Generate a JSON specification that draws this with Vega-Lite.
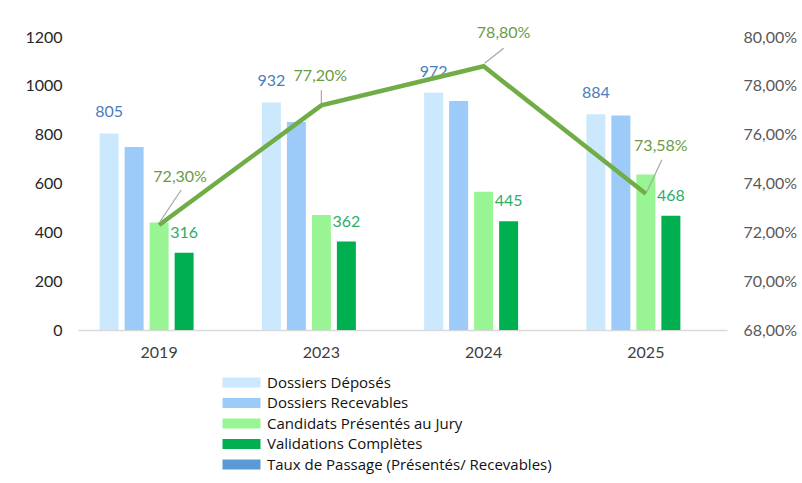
{
  "$schema": "https://vega.github.io/schema/vega-lite/v6.json",
  "width": 649,
  "height": 293,
  "autosize": {"type": "none"},
  "padding": {"left": 78, "top": 37, "right": 75, "bottom": 153},
  "background": "white",
  "config": {
    "view": {"stroke": null},
    "font": "Lato",
    "locale": {"number": {"decimal": ",", "thousands": "", "grouping": [3], "currency": ["", " €"]}}
  },
  "datasets": {
    "bars": [
      {"year": "2019", "series": "Dossiers Déposés", "value": 805},
      {"year": "2023", "series": "Dossiers Déposés", "value": 932},
      {"year": "2024", "series": "Dossiers Déposés", "value": 972},
      {"year": "2025", "series": "Dossiers Déposés", "value": 884},
      {"year": "2019", "series": "Dossiers Recevables", "value": 750},
      {"year": "2023", "series": "Dossiers Recevables", "value": 852},
      {"year": "2024", "series": "Dossiers Recevables", "value": 938},
      {"year": "2025", "series": "Dossiers Recevables", "value": 878},
      {"year": "2019", "series": "Candidats Présentés au Jury", "value": 440},
      {"year": "2023", "series": "Candidats Présentés au Jury", "value": 471},
      {"year": "2024", "series": "Candidats Présentés au Jury", "value": 566},
      {"year": "2025", "series": "Candidats Présentés au Jury", "value": 637},
      {"year": "2019", "series": "Validations Complètes", "value": 316},
      {"year": "2023", "series": "Validations Complètes", "value": 362},
      {"year": "2024", "series": "Validations Complètes", "value": 445},
      {"year": "2025", "series": "Validations Complètes", "value": 468}
    ],
    "taux": [
      {"year": "2019", "taux": 0.723},
      {"year": "2023", "taux": 0.772},
      {"year": "2024", "taux": 0.788},
      {"year": "2025", "taux": 0.7358}
    ]
  },
  "layer": [
    {
      "data": {"name": "bars"},
      "layer": [
        {
          "mark": {"type": "bar"},
          "encoding": {
            "x": {
              "field": "year", "type": "nominal",
              "scale": {"paddingInner": 0.2666, "paddingOuter": 0.1333},
              "axis": {"title": null, "labelAngle": 0, "ticks": false, "tickSize": 0, "domainColor": "#D9D9D9", "domainWidth": 1.5, "labelFontSize": 16, "labelColor": "#404040", "labelPadding": 14}
            },
            "xOffset": {
              "field": "series", "type": "nominal",
              "scale": {"domain": ["Dossiers Déposés", "Dossiers Recevables", "Candidats Présentés au Jury", "Validations Complètes", "Taux de Passage (Présentés/ Recevables)"], "paddingInner": 0.24, "paddingOuter": 0}
            },
            "y": {
              "field": "value", "type": "quantitative",
              "scale": {"domain": [0, 1200]},
              "axis": {"title": null, "values": [0, 200, 400, 600, 800, 1000, 1200], "grid": false, "domain": false, "ticks": false, "tickSize": 0, "labelFontSize": 16, "labelColor": "#262626", "labelPadding": 16}
            },
            "color": {
              "field": "series", "type": "nominal",
              "scale": {
                "domain": ["Dossiers Déposés", "Dossiers Recevables", "Candidats Présentés au Jury", "Validations Complètes", "Taux de Passage (Présentés/ Recevables)"],
                "range": ["#CCE8FC", "#9DCBF9", "#99F593", "#00B050", "#5B9BD5"]
              },
              "legend": {
                "orient": "none", "legendX": 156, "legendY": 338, "direction": "vertical", "title": null,
                "symbolType": "M-3.8,-1H3.8V1H-3.8Z", "symbolSize": 100, "symbolStrokeWidth": 0,
                "labelFont": "Open Sans", "labelFontSize": 15, "labelOffset": 18, "rowPadding": 4.5, "labelColor": "#111111", "labelLimit": 400
              }
            }
          }
        },
        {
          "transform": [{"filter": "datum.series == 'Dossiers Déposés'"}],
          "mark": {"type": "text", "fontSize": 16, "color": "#4A7EBB", "baseline": "middle", "dy": -21},
          "encoding": {
            "x": {"field": "year", "type": "nominal"},
            "xOffset": {"field": "series", "type": "nominal"},
            "y": {"field": "value", "type": "quantitative"},
            "text": {"field": "value", "type": "quantitative"}
          }
        },
        {
          "transform": [{"filter": "datum.series == 'Validations Complètes'"}],
          "mark": {"type": "text", "fontSize": 16, "color": "#2EAD6A", "baseline": "middle", "dy": -20},
          "encoding": {
            "x": {"field": "year", "type": "nominal"},
            "xOffset": {"field": "series", "type": "nominal"},
            "y": {"field": "value", "type": "quantitative"},
            "text": {"field": "value", "type": "quantitative"}
          }
        }
      ]
    },
    {
      "data": {"name": "taux"},
      "layer": [
        {
          "mark": {"type": "line", "color": "#70AD47", "strokeWidth": 4.5},
          "encoding": {
            "x": {"field": "year", "type": "nominal"},
            "y": {
              "field": "taux", "type": "quantitative",
              "scale": {"domain": [0.68, 0.80]},
              "axis": {"orient": "right", "title": null, "values": [0.68, 0.70, 0.72, 0.74, 0.76, 0.78, 0.80], "format": ".2%", "grid": false, "domain": false, "ticks": false, "tickSize": 0, "labelFontSize": 16, "labelColor": "#595959", "labelPadding": 16}
            }
          }
        },
        {
          "transform": [{"filter": "datum.year == '2019'"}],
          "layer": [
            {"mark": {"type": "rule", "color": "#A6A6A6", "strokeWidth": 1.2, "yOffset": -2, "x2Offset": 22, "y2Offset": -35},
             "encoding": {"x": {"field": "year", "type": "nominal"}, "x2": {"field": "year"}, "y": {"field": "taux", "type": "quantitative"}, "y2": {"field": "taux"}}},
            {"mark": {"type": "text", "fontSize": 16, "color": "#6A9B45", "baseline": "middle", "dx": 21, "dy": -48},
             "encoding": {"x": {"field": "year", "type": "nominal"}, "y": {"field": "taux", "type": "quantitative"}, "text": {"field": "taux", "type": "quantitative", "format": ".2%"}}}
          ]
        },
        {
          "transform": [{"filter": "datum.year == '2023'"}],
          "layer": [
            {"mark": {"type": "rule", "color": "#A6A6A6", "strokeWidth": 1.2, "yOffset": -2, "x2Offset": 0, "y2Offset": -15},
             "encoding": {"x": {"field": "year", "type": "nominal"}, "x2": {"field": "year"}, "y": {"field": "taux", "type": "quantitative"}, "y2": {"field": "taux"}}},
            {"mark": {"type": "text", "fontSize": 16, "color": "#6A9B45", "baseline": "middle", "dx": -1, "dy": -29},
             "encoding": {"x": {"field": "year", "type": "nominal"}, "y": {"field": "taux", "type": "quantitative"}, "text": {"field": "taux", "type": "quantitative", "format": ".2%"}}}
          ]
        },
        {
          "transform": [{"filter": "datum.year == '2024'"}],
          "layer": [
            {"mark": {"type": "rule", "color": "#A6A6A6", "strokeWidth": 1.2, "xOffset": 1, "yOffset": -3, "x2Offset": 20, "y2Offset": -18},
             "encoding": {"x": {"field": "year", "type": "nominal"}, "x2": {"field": "year"}, "y": {"field": "taux", "type": "quantitative"}, "y2": {"field": "taux"}}},
            {"mark": {"type": "text", "fontSize": 16, "color": "#6A9B45", "baseline": "middle", "dx": 20, "dy": -33},
             "encoding": {"x": {"field": "year", "type": "nominal"}, "y": {"field": "taux", "type": "quantitative"}, "text": {"field": "taux", "type": "quantitative", "format": ".2%"}}}
          ]
        },
        {
          "transform": [{"filter": "datum.year == '2025'"}],
          "layer": [
            {"mark": {"type": "rule", "color": "#A6A6A6", "strokeWidth": 1.2, "xOffset": 1, "yOffset": -2, "x2Offset": 16, "y2Offset": -34},
             "encoding": {"x": {"field": "year", "type": "nominal"}, "x2": {"field": "year"}, "y": {"field": "taux", "type": "quantitative"}, "y2": {"field": "taux"}}},
            {"mark": {"type": "text", "fontSize": 16, "color": "#6A9B45", "baseline": "middle", "dx": 15, "dy": -48},
             "encoding": {"x": {"field": "year", "type": "nominal"}, "y": {"field": "taux", "type": "quantitative"}, "text": {"field": "taux", "type": "quantitative", "format": ".2%"}}}
          ]
        }
      ]
    }
  ],
  "resolve": {"scale": {"y": "independent"}}
}
